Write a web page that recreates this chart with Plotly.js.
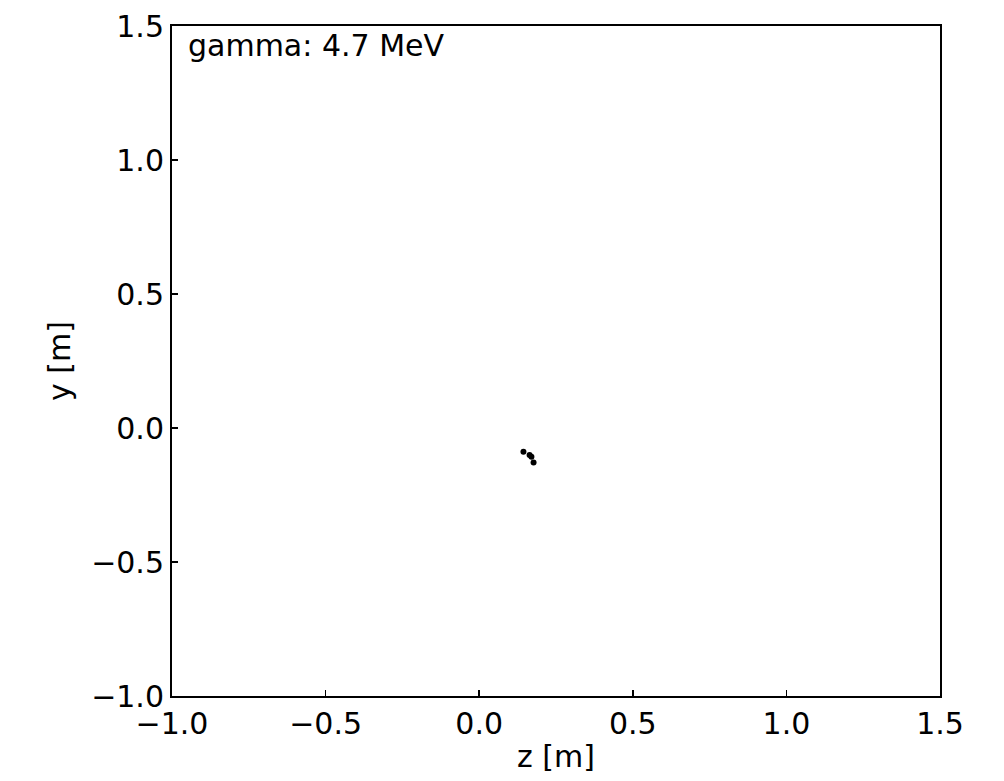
<!DOCTYPE html>
<html>
<head>
<meta charset="utf-8">
<script src="https://cdn.plot.ly/plotly-3.0.1.min.js"></script>
<style>html,body{margin:0;padding:0;background:#fff;}#chart{width:1004px;height:781px;}</style>
</head>
<body>
<div id="chart"></div>
<script>
// Hit positions (z, y) in metres
const zValues = [0.144, 0.164, 0.170, 0.177];
const yValues = [-0.089, -0.101, -0.107, -0.129];
const particleLabel = "gamma: 4.7 MeV";
const xTicks = [-1.0, -0.5, 0.0, 0.5, 1.0, 1.5];
const yTicks = [-1.0, -0.5, 0.0, 0.5, 1.0, 1.5];
const fmt = v => (v < 0 ? "\u2212" : "") + Math.abs(v).toFixed(1);

const font = {family: "DejaVu Sans", size: 30, color: "#000"};

const trace = {
  x: zValues, y: yValues, type: "scatter", mode: "markers",
  marker: {color: "#000", size: 6}, hoverinfo: "skip", showlegend: false
};

const axisCommon = {
  showgrid: false, zeroline: false, showline: true, mirror: true,
  linecolor: "#000", linewidth: 2, ticks: "inside", ticklen: 6, tickwidth: 1.5,
  tickcolor: "#000", tickfont: font
};

const layout = {
  width: 1004, height: 781,
  margin: {l: 172, r: 64, t: 26, b: 85},
  paper_bgcolor: "#fff", plot_bgcolor: "#fff",
  font: font,
  xaxis: Object.assign({}, axisCommon, {
    range: [-1.0, 1.5], tickvals: xTicks, ticktext: xTicks.map(fmt),
    title: {text: "z [m]", font: font, standoff: 6}
  }),
  yaxis: Object.assign({}, axisCommon, {
    range: [-1.0, 1.5], tickvals: yTicks, ticktext: yTicks.map(fmt),
    title: {text: "y [m]", font: font, standoff: 12}
  }),
  annotations: [{
    xref: "paper", yref: "paper", x: 0.018, y: 1.0, xanchor: "left", yanchor: "top",
    text: particleLabel, showarrow: false, font: font
  }]
};

Plotly.newPlot("chart", [trace], layout, {displayModeBar: false, staticPlot: true});
</script>
</body>
</html>
